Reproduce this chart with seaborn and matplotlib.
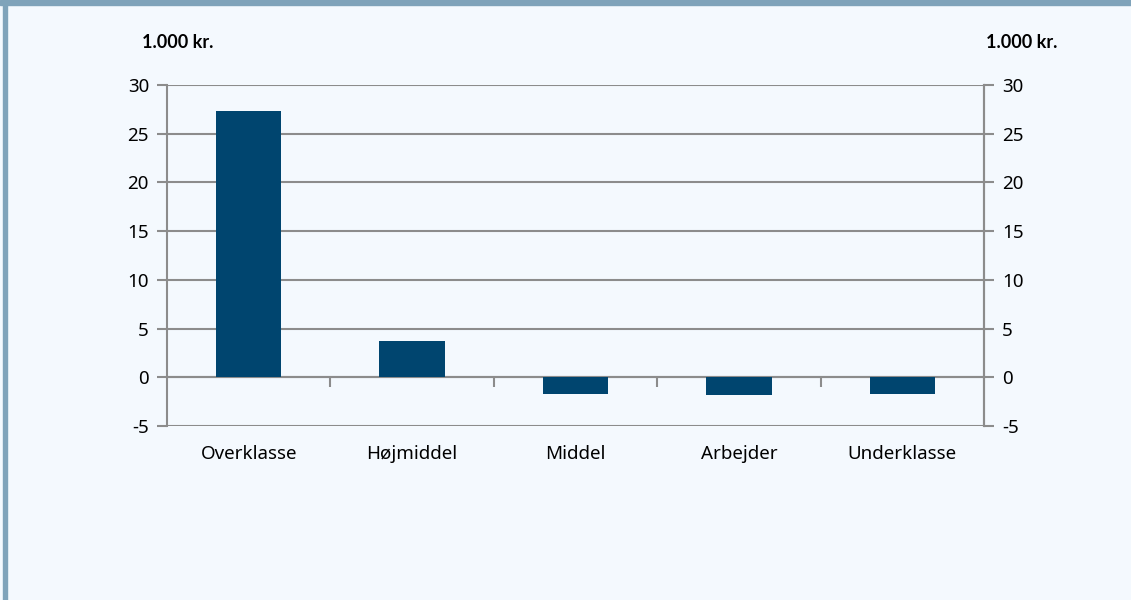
import matplotlib
matplotlib.use("Agg")
import matplotlib.pyplot as plt
import seaborn as sns
import pandas as pd
from matplotlib.patches import Rectangle

categories = ["Overklasse", "Højmiddel", "Middel", "Arbejder", "Underklasse"]
values = [27.3, 3.7, -1.75, -1.8, -1.7]
yticks = [-5, 0, 5, 10, 15, 20, 25, 30]
unit_label = "1.000 kr."

BG = "#F4F9FE"
FRAME = "#7FA3BA"
BAR = "#00456F"
GRID = "#8C8C8C"

sns.set_theme(style="white")
plt.rcParams['font.family'] = ['Noto Sans', 'DejaVu Sans']

fig = plt.figure(figsize=(11.31, 6.0), dpi=100, facecolor=BG)
# frame
fig.patches.append(Rectangle((0, 1 - 5/600), 1, 5/600, transform=fig.transFigure, color=FRAME, zorder=0))
fig.patches.append(Rectangle((3/1131, 0), 4/1131, 1, transform=fig.transFigure, color=FRAME))

ax = fig.add_axes([167/1131, 1 - 426/600, (984-167)/1131, (426-85)/600])
ax.set_facecolor(BG)
df = pd.DataFrame({"cat": categories, "val": values})
sns.barplot(data=df, x="cat", y="val", color=BAR, width=0.4, saturation=1, ax=ax,
            zorder=3, linewidth=0, edgecolor=BAR)

ax.set_ylim(-5, 30)
ax.set_xlim(-0.5, len(categories) - 0.5)
ax.set_yticks(yticks)
ax.set_yticklabels([str(t) for t in yticks])
ax.yaxis.grid(True, color=GRID, linewidth=1.5)
ax.set_axisbelow(True)
ax.set_xlabel("")
ax.set_ylabel("")
for s in ["top", "bottom"]:
    ax.spines[s].set_visible(False)
for s in ["left", "right"]:
    ax.spines[s].set_color(GRID)
    ax.spines[s].set_linewidth(1.5)
ax.tick_params(axis="y", left=True, length=7, width=1.5, color=GRID, labelsize=13.5, labelcolor="black", pad=6)
ax.tick_params(axis="x", bottom=False, length=0, labelsize=13.5, labelcolor="black", pad=14)

# zero line with category separator ticks
sec = ax.secondary_xaxis(5/35)
sec.set_xticks([i + 0.5 for i in range(len(categories) - 1)])
sec.tick_params(axis="x", direction="out", length=7, width=1.5, color=GRID, labelbottom=False)
sec.spines["bottom"].set_color(GRID)
sec.spines["bottom"].set_linewidth(1.5)

ax2 = ax.twinx()
ax2.set_ylim(ax.get_ylim())
ax2.set_yticks(yticks)
ax2.set_yticklabels([str(t) for t in yticks])
ax2.tick_params(axis="y", right=True, length=7, width=1.5, color=GRID, labelsize=13.5, labelcolor="black", pad=6)
for s in ["top", "bottom", "left"]:
    ax2.spines[s].set_visible(False)
ax2.spines["right"].set_color(GRID)
ax2.spines["right"].set_linewidth(1.5)
ax2.grid(False)

for xc in (178, 1022):
    fig.text(xc/1131, 1 - 42/600, unit_label, ha="center", va="center", fontsize=13,
             fontweight="bold", family=["Lato", "DejaVu Sans"], color="black")

fig.savefig("out.png", dpi=100, facecolor=BG)
